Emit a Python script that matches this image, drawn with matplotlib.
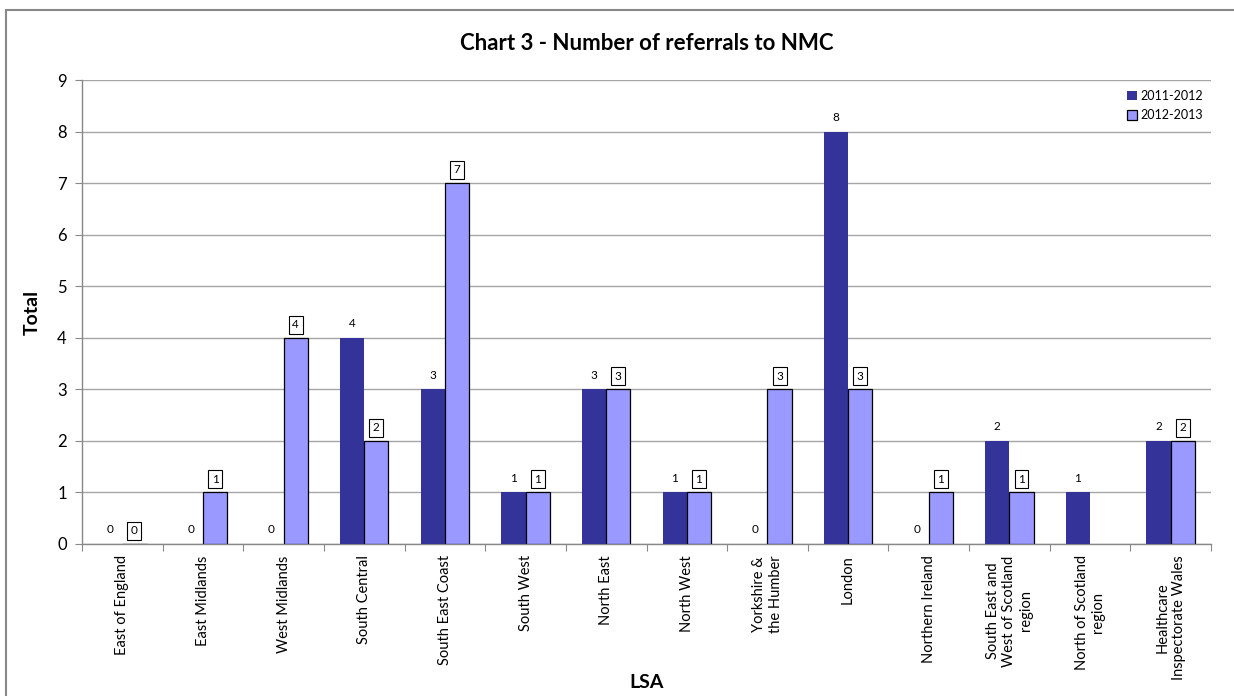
import matplotlib
matplotlib.use("Agg")
import matplotlib.pyplot as plt
import numpy as np
from matplotlib.patches import Rectangle

plt.rcParams['font.family'] = ['Lato', 'DejaVu Sans']

regions = [
    "East of England", "East Midlands", "West Midlands", "South Central",
    "South East Coast", "South West", "North East", "North West",
    "Yorkshire &\nthe Humber", "London", "Northern Ireland",
    "South East and\nWest of Scotland\nregion", "North of Scotland\nregion",
    "Healthcare\nInspectorate Wales",
]
referrals_2011_12 = [0, 0, 0, 4, 3, 1, 3, 1, 0, 8, 0, 2, 1, 2]
referrals_2012_13 = [0, 1, 4, 2, 7, 1, 3, 1, 3, 3, 1, 1, None, 2]
series_names = ["2011-2012", "2012-2013"]
y_ticks = list(range(0, 10))

dark = "#333399"
light = "#9999FF"

fig = plt.figure(figsize=(12.34, 6.96), dpi=100)
W, H = 1234, 696
ax = fig.add_axes([82 / W, 1 - 544 / H, (1211 - 82) / W, (544 - 80) / H])

# outer chart frame
fig.patches.append(Rectangle((6 / W, -0.05), 1.2, 1 - 10 / H + 0.05,
                             transform=fig.transFigure, fill=False,
                             edgecolor="#888888", linewidth=1.5, zorder=0))

x = np.arange(len(regions))
bw = 0.3
v1 = np.array(referrals_2011_12, dtype=float)
v2 = np.array([np.nan if v is None else v for v in referrals_2012_13], dtype=float)

b1 = ax.bar(x - bw / 2, v1, bw, color=dark, edgecolor="none", label=series_names[0], zorder=3)
b2 = ax.bar(x + bw / 2, np.nan_to_num(v2), bw, color=light, edgecolor="black",
            linewidth=0.9, label=series_names[1], zorder=3)
for i, v in enumerate(v2):
    if np.isnan(v):
        b2[i].set_visible(False)

for xi, v in zip(x, v1):
    ax.text(xi - bw / 2, v + 0.17, f"{int(v)}", ha="center", va="bottom",
            fontsize=8.5, color="black", zorder=5)
for xi, v in zip(x, v2):
    if np.isnan(v):
        continue
    ax.text(xi + bw / 2, v + 0.15, f"{int(v)}", ha="center", va="bottom",
            fontsize=8.5, color="black", zorder=5,
            bbox=dict(boxstyle="square,pad=0.3", facecolor="white",
                      edgecolor="black", linewidth=0.8))

ax.set_xlim(-0.5, len(regions) - 0.5)
ax.set_ylim(0, 9)
ax.set_yticks(y_ticks)
ax.set_yticklabels([str(t) for t in y_ticks], fontsize=12)
ax.yaxis.grid(True, color="#a6a6a6", linewidth=1, zorder=0)
ax.set_axisbelow(True)

ax.set_xticks(np.arange(len(regions) + 1) - 0.5, minor=False)
ax.set_xticklabels([])
ax.tick_params(axis="x", length=5, color="#888888", direction="out")
ax.tick_params(axis="y", length=5, color="#888888", direction="out", pad=6)
for xi, lab in zip(x, regions):
    ax.text(xi, -0.22, lab, rotation=90, ha="center", va="top",
            multialignment="center", fontsize=10.5, linespacing=1.25,
            transform=ax.transData)

for s in ["top", "right"]:
    ax.spines[s].set_visible(False)
for s in ["left", "bottom"]:
    ax.spines[s].set_color("#888888")
    ax.spines[s].set_linewidth(1)

ax.set_ylabel("Total", fontsize=14, fontweight="bold", labelpad=12)
fig.text((82 + 1211) / 2 / W, 1 - 682 / H, "LSA", ha="center", va="center",
         fontsize=14, fontweight="bold")
fig.text((82 + 1211) / 2 / W, 1 - 43 / H, "Chart 3 - Number of referrals to NMC",
         ha="center", va="center", fontsize=16, fontweight="bold")

leg = ax.legend(loc="upper right", bbox_to_anchor=(1.0, 0.995), frameon=True,
                fontsize=9, handlelength=0.8, handleheight=0.8, handletextpad=0.3,
                labelspacing=0.6, borderaxespad=0.2)
leg.get_frame().set_edgecolor("none")
leg.get_frame().set_facecolor("white")
leg.get_frame().set_alpha(1)

fig.savefig("out.png", dpi=100)
